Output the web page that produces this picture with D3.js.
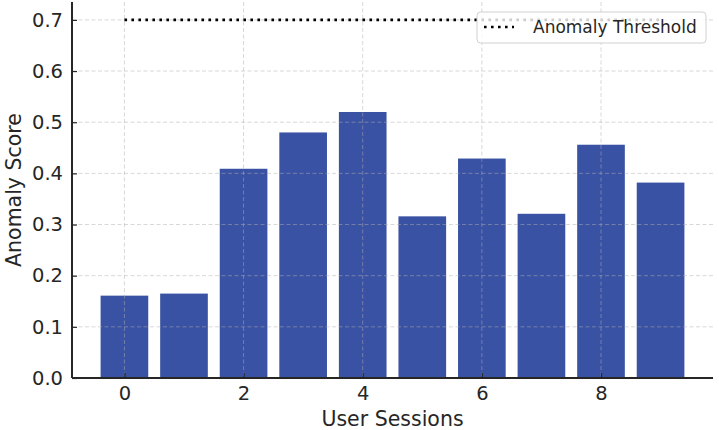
<!DOCTYPE html>
<html>
<head>
<meta charset="utf-8">
<script src="https://cdn.jsdelivr.net/npm/d3@7"></script>
<style>
  html, body { margin: 0; padding: 0; background: #fff; }
  svg { display: block; font-family: "DejaVu Sans", sans-serif; }
</style>
</head>
<body>
<svg id="chart" width="719" height="430"></svg>
<script>
const sessions = [0, 1, 2, 3, 4, 5, 6, 7, 8, 9];
const scores = [0.161, 0.165, 0.409, 0.480, 0.520, 0.316, 0.429, 0.321, 0.456, 0.382];
const threshold = 0.7;
const xTicks = [0, 2, 4, 6, 8];
const yTicks = [0.0, 0.1, 0.2, 0.3, 0.4, 0.5, 0.6, 0.7];
const thresholdLabel = "Anomaly Threshold";
const xLabel = "User Sessions";
const yLabel = "Anomaly Score";

(function () {
const svg = d3.select("#chart");
const pL = 72, pR = 713, pT = 2, pB = 378;

const x = d3.scaleLinear().domain([-0.88, 9.88]).range([pL, pR]);
const y = d3.scaleLinear().domain([0, 0.735]).range([pB, pT]);
const barW = x(0.8) - x(0);

// bars
svg.append("g").selectAll("rect").data(sessions).join("rect")
  .attr("x", d => x(d - 0.4))
  .attr("y", (d, i) => y(scores[i]))
  .attr("width", barW)
  .attr("height", (d, i) => y(0) - y(scores[i]))
  .attr("fill", "#3a52a3");

// grid (on top of bars, faint)
const grid = svg.append("g").attr("stroke", "#b0b0b0").attr("stroke-opacity", 0.55)
  .attr("stroke-width", 0.9).attr("stroke-dasharray", "4,2.5");
grid.selectAll("line.h").data(yTicks).join("line").attr("class", "h")
  .attr("x1", pL).attr("x2", pR).attr("y1", d => y(d)).attr("y2", d => y(d));
grid.selectAll("line.v").data(xTicks).join("line").attr("class", "v")
  .attr("x1", d => x(d)).attr("x2", d => x(d)).attr("y1", pT).attr("y2", pB);

// threshold line
svg.append("line")
  .attr("x1", x(0)).attr("x2", x(9))
  .attr("y1", y(threshold)).attr("y2", y(threshold))
  .attr("stroke", "#000").attr("stroke-width", 2.6)
  .attr("stroke-dasharray", "2.6,4.4");

// axes
const xAxis = d3.axisBottom(x).tickValues(xTicks).tickFormat(d3.format("d"))
  .tickSizeInner(-5).tickSizeOuter(0).tickPadding(8);
const yAxis = d3.axisLeft(y).tickValues(yTicks).tickFormat(d3.format(".1f"))
  .tickSizeInner(-5).tickSizeOuter(0).tickPadding(9);

const gx = svg.append("g").attr("transform", `translate(0,${pB})`).call(xAxis);
const gy = svg.append("g").attr("transform", `translate(${pL},0)`).call(yAxis);
[gx, gy].forEach(g => {
  g.selectAll("text").attr("font-size", 19.5).attr("fill", "#262626")
    .attr("font-family", "DejaVu Sans, sans-serif");
  g.selectAll(".tick line").attr("stroke", "#262626").attr("stroke-width", 1.2);
  g.select(".domain").attr("stroke", "#262626").attr("stroke-width", 2);
});
gx.select(".domain").attr("d", `M${pL},0H${pR}`);
gy.select(".domain").attr("d", `M0,${pB}V${pT}`);

// axis labels
svg.append("text").attr("x", (pL + pR) / 2).attr("y", 426)
  .attr("text-anchor", "middle").attr("font-size", 20.5).attr("fill", "#262626")
  .text(xLabel);
svg.append("text").attr("transform", `translate(21,${(pT + pB) / 2}) rotate(-90)`)
  .attr("text-anchor", "middle").attr("font-size", 20.5).attr("fill", "#262626")
  .text(yLabel);

// legend
const lg = svg.append("g");
lg.append("rect").attr("x", 477).attr("y", 12).attr("width", 229).attr("height", 31)
  .attr("rx", 3.5).attr("fill", "#fff").attr("fill-opacity", 0.8)
  .attr("stroke", "#d0d0d0").attr("stroke-width", 1);
lg.append("line").attr("x1", 484).attr("x2", 514).attr("y1", 27).attr("y2", 27)
  .attr("stroke", "#000").attr("stroke-width", 2.6).attr("stroke-dasharray", "2.6,4.4");
lg.append("text").attr("x", 533).attr("y", 27).attr("dy", "0.35em")
  .attr("font-size", 17).attr("fill", "#262626").text(thresholdLabel);
})();
</script>
</body>
</html>
